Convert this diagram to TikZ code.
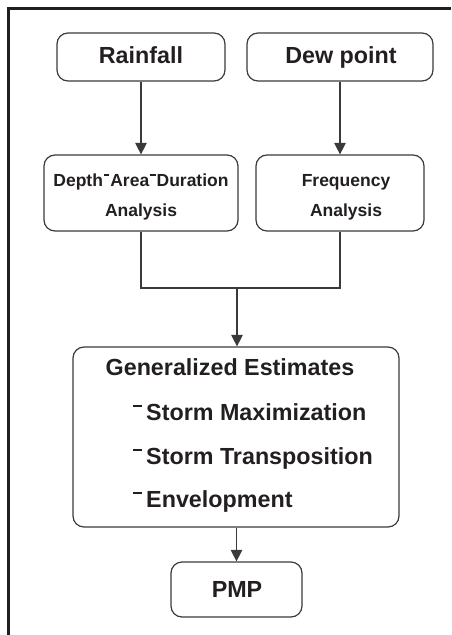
\documentclass[tikz,border=0pt]{standalone}
\usepackage{fontspec}
\setmainfont{Liberation Sans}
\usetikzlibrary{arrows.meta}
\definecolor{ink}{HTML}{231F20}
\definecolor{boxline}{HTML}{3A3A3A}
\newcommand{\hdash}{\hspace{0.05em}\rule[0.6em]{0.32em}{0.09em}\hspace{0.05em}}
\newcommand{\idash}{\rule[0.56em]{0.36em}{0.08em}\hspace{0.2em}}
\tikzset{
  rbox/.style={draw=boxline, line width=1.2pt, rounded corners=11pt, inner sep=0pt},
  txt/.style={anchor=base, inner sep=0pt, text=ink, font=\bfseries},
  big/.style={txt, font=\fontsize{23.3}{26}\selectfont\bfseries},
  small/.style={txt, font=\fontsize{17.5}{20}\selectfont\bfseries},
  conn/.style={draw=boxline, line width=1.2pt},
  arr/.style={conn, -{Triangle[width=11.5pt,length=11.5pt]}},
  frame/.style={draw=ink, line width=2.6pt}
}
\begin{document}
\begin{tikzpicture}[x=1pt,y=-1pt]
\useasboundingbox (0,0) rectangle (451,635);
% frame
\coordinate (fl) at (8.6,635);
\coordinate (fc) at (8.6,8.6);
\coordinate (fr) at (451,8.6);
\draw[frame] (fl) -- (fc) -- (fr);
% boxes
\node[rbox, minimum width=168pt, minimum height=48pt] (rain) at (141,57) {};
\node[rbox, minimum width=186pt, minimum height=48pt] (dew) at (340,57) {};
\node[rbox, minimum width=194pt, minimum height=76pt] (dad) at (141,193) {};
\node[rbox, minimum width=168pt, minimum height=76pt] (freq) at (340,193) {};
\node[rbox, minimum width=326pt, minimum height=180pt] (gen) at (236,437) {};
\node[rbox, minimum width=131pt, minimum height=55pt] (pmp) at (236.5,589.5) {};
% texts
\node[big] (train) at (141,63.3) {Rainfall};
\node[big] (tdew) at (341,63.3) {Dew point};
\node[small] (tdad1) at (141,186) {Depth\hdash Area\hdash Duration};
\node[small] (tdad2) at (141,216) {Analysis};
\node[small] (tfreq1) at (346,186) {Frequency};
\node[small] (tfreq2) at (346,216) {Analysis};
\node[big] (tgen) at (230,375) {Generalized Estimates};
\node[big, anchor=base west] (ti1) at (133,420) {\idash Storm Maximization};
\node[big, anchor=base west] (ti2) at (133,464) {\idash Storm Transposition};
\node[big, anchor=base west] (ti3) at (133,507) {\idash Envelopment};
\node[big] (tpmp) at (237,597) {PMP};
% connectors
\draw[arr] (rain.south) -- (dad.north);
\draw[arr] (dew.south) -- (freq.north);
\coordinate (jn) at (237,288);
\draw[conn] (dad.south) |- (jn) -| (freq.south);
\draw[arr] (jn) -- (gen.north -| jn);
\draw[arr] (gen.south -| pmp.north) -- (pmp.north);
\end{tikzpicture}
\end{document}
